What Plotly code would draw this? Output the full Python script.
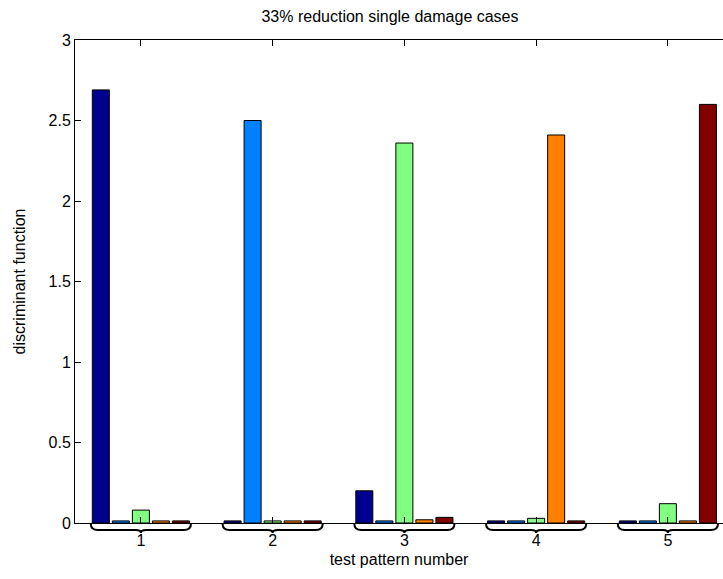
import plotly.graph_objects as go

# Data
patterns = [1, 2, 3, 4, 5]
tick_labels = ["1", "2", "3", "4", "5"]
series_names = ["damage 1", "damage 2", "damage 3", "damage 4", "damage 5"]
d1 = [2.69, 0.013, 0.20, 0.013, 0.013]
d2 = [0.013, 2.50, 0.013, 0.013, 0.013]
d3 = [0.08, 0.013, 2.36, 0.029, 0.12]
d4 = [0.013, 0.013, 0.02, 2.41, 0.013]
d5 = [0.013, 0.013, 0.035, 0.013, 2.60]
series_values = [d1, d2, d3, d4, d5]
colors = ["#00008F", "#0080FF", "#80FF80", "#FF8000", "#800000"]

W, H = 723, 579
ml, mt, mb, mr = 75, 40, 55.5, 0
plot_w = W - ml - mr
plot_h = H - mt - mb
px_per_unit = 131.75
x_lo = 0.5
x_hi = x_lo + plot_w / px_per_unit

fig = go.Figure()
for name, vals, col in zip(series_names, series_values, colors):
    fig.add_trace(go.Bar(
        x=patterns, y=vals, name=name,
        marker=dict(color=col, line=dict(color="black", width=1)),
        showlegend=False,
    ))

# braces under each group
def py(d):
    return -d / plot_h

half = 0.38
r = 7 / px_per_unit
rt = 5 / px_per_unit
shapes = []
for c in patterns:
    y0, y1, y2 = py(1), py(7), py(10)
    path = (f"M {c-half},{y0} Q {c-half},{y1} {c-half+r},{y1} "
            f"L {c-rt},{y1} Q {c},{y1} {c},{y2} "
            f"Q {c},{y1} {c+rt},{y1} "
            f"L {c+half-r},{y1} Q {c+half},{y1} {c+half},{y0}")
    shapes.append(dict(type="path", xref="x", yref="paper", path=path,
                       line=dict(color="black", width=2)))

FS = 16
font = dict(family="Liberation Sans, Arial, sans-serif", size=FS, color="black")

fig.update_layout(
    width=W, height=H,
    margin=dict(l=ml, r=mr, t=mt, b=mb, pad=0),
    paper_bgcolor="white", plot_bgcolor="white",
    font=font,
    barmode="group", bargap=0.24, bargroupgap=0.15,
    title=dict(text="33% reduction single damage cases", x=390 / W, xref="container",
               xanchor="center", y=1 - 16 / H, yanchor="middle", yref="container",
               font=dict(size=FS)),
    shapes=shapes,
    xaxis=dict(range=[x_lo, x_hi], tickvals=patterns, ticktext=tick_labels,
               ticks="inside", ticklen=6, tickcolor="black", tickwidth=1,
               showline=True, linecolor="black", linewidth=1, mirror="ticks",
               showgrid=False, zeroline=False, ticklabelstandoff=3,
               tickfont=dict(size=FS),
               title=dict(text="test pattern number", standoff=5, font=dict(size=FS))),
    yaxis=dict(range=[0, 3], dtick=0.5, tick0=0,
               ticks="inside", ticklen=6, tickcolor="black", tickwidth=1,
               showline=True, linecolor="black", linewidth=1, mirror=False,
               showgrid=False, zeroline=False, tickfont=dict(size=FS),
               title=dict(text="discriminant function", standoff=18, font=dict(size=FS))),
)

fig.write_html("out.html")
